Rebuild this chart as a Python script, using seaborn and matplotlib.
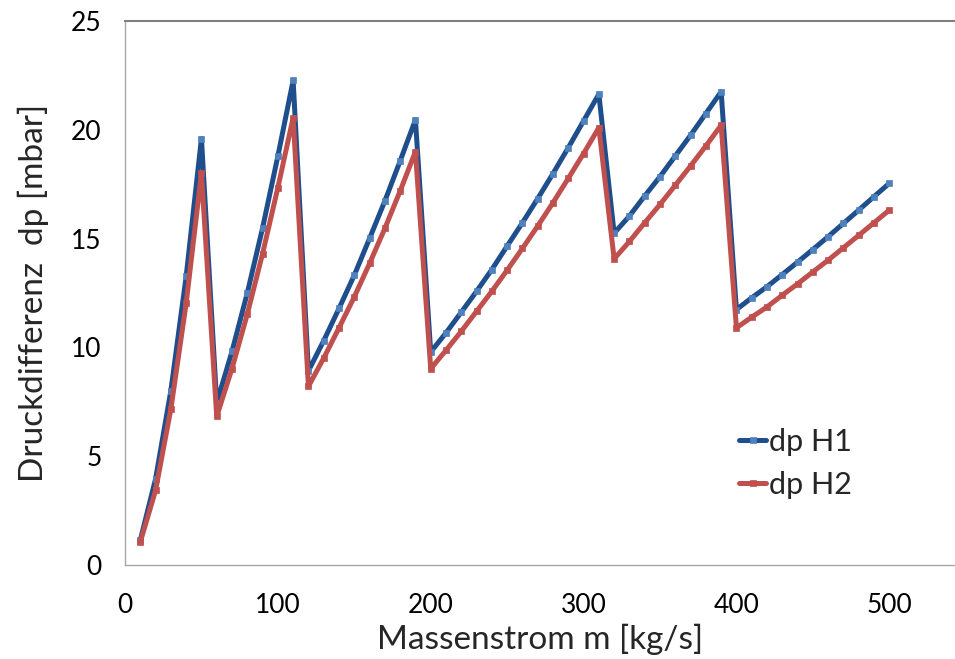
import numpy as np
import pandas as pd
import matplotlib
matplotlib.use("Agg")
import matplotlib.pyplot as plt
import seaborn as sns

# ---- data ----
mass_flow = list(range(10, 510, 10))
dp_h1 = [1.14, 3.96, 8.01, 13.26, 19.6, 7.45, 9.82, 12.5, 15.49, 18.79,
         22.27, 8.92, 10.31, 11.79, 13.32, 15.01, 16.73, 18.57, 20.46, 9.79,
         10.67, 11.62, 12.58, 13.58, 14.66, 15.73, 16.84, 17.99, 19.18, 20.41,
         21.64, 15.25, 16.04, 16.96, 17.85, 18.8, 19.75, 20.75, 21.75, 11.74,
         12.28, 12.79, 13.35, 13.92, 14.5, 15.09, 15.7, 16.31, 16.93, 17.54]
dp_h2 = [1.06, 3.43, 7.17, 12.02, 18.01, 6.83, 9.03, 11.53, 14.31, 17.34,
         20.56, 8.21, 9.51, 10.9, 12.32, 13.86, 15.47, 17.19, 19.0, 9.02,
         9.87, 10.74, 11.66, 12.58, 13.55, 14.55, 15.58, 16.65, 17.77, 18.91,
         20.1, 14.07, 14.87, 15.73, 16.57, 17.45, 18.34, 19.26, 20.21, 10.9,
         11.39, 11.86, 12.4, 12.92, 13.47, 14.01, 14.58, 15.15, 15.73, 16.31]
series_names = ["dp H1", "dp H2"]
x_ticks = [0, 100, 200, 300, 400, 500]
y_ticks = [0, 5, 10, 15, 20, 25]

df = pd.DataFrame({"m": mass_flow, "dp H1": dp_h1, "dp H2": dp_h2})

sns.set_style("white")
plt.rcParams["font.family"] = ["Lato", "DejaVu Sans"]

fig = plt.figure(figsize=(9.55, 6.59), dpi=100)
ax = fig.add_axes([0.1309, 0.1426, 0.8691, 0.8255])

styles = {
    "dp H1": dict(line="#1F4E8C", marker="#4F81BD"),
    "dp H2": dict(line="#C0504D", marker="#C0504D"),
}
for name in series_names:
    st = styles[name]
    sns.lineplot(data=df, x="m", y=name, ax=ax, color=st["line"], linewidth=3.6,
                 marker="s", markersize=5, markerfacecolor=st["marker"],
                 markeredgecolor=st["marker"], markeredgewidth=0.5, label=name)

ax.set_xlim(0, 543)
ax.set_ylim(0, 25)
ax.set_xticks(x_ticks)
ax.set_yticks(y_ticks)
ax.tick_params(axis="both", direction="out", length=8, width=1, color="#A6A6A6",
               labelsize=19, labelcolor="black", pad=9)
ax.tick_params(axis="x", pad=12)
ax.set_xlabel("Massenstrom m [kg/s]", fontsize=24, labelpad=4)
ax.set_ylabel("Druckdifferenz  dp [mbar]", fontsize=24, labelpad=16)

for s in ["left", "bottom"]:
    ax.spines[s].set_color("#A6A6A6")
    ax.spines[s].set_linewidth(1)
ax.spines["top"].set_color("#7F7F7F")
ax.spines["top"].set_linewidth(1.5)
ax.spines["right"].set_visible(False)

leg = ax.legend(loc="upper left", bbox_to_anchor=(0.725, 0.275), frameon=False,
                fontsize=22, handlelength=0.9, handletextpad=0.08,
                labelspacing=0.5, borderaxespad=0)

fig.savefig("out.png", dpi=100)
